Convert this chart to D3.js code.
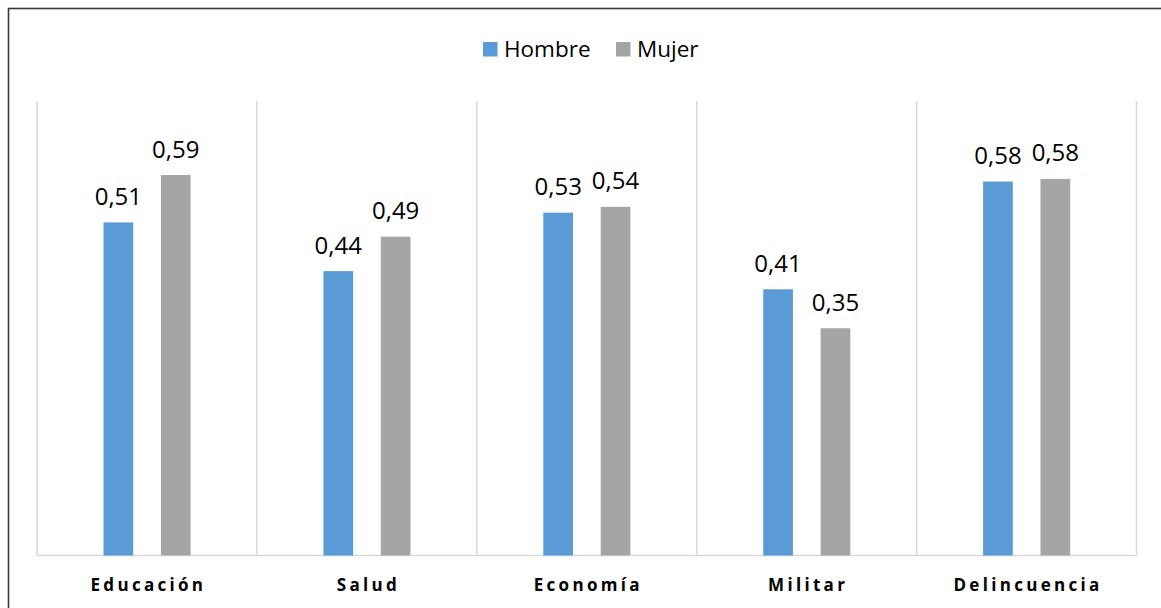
<!DOCTYPE html>
<html>
<head>
<meta charset="utf-8">
<script src="https://cdn.jsdelivr.net/npm/d3@7/dist/d3.min.js"></script>
<style>
  html, body { margin: 0; padding: 0; background: #fff; }
  svg { display: block; }
</style>
</head>
<body>
<svg id="chart" width="1161" height="608"></svg>
<script>
const categories = ["Educación", "Salud", "Economía", "Militar", "Delincuencia"];
const seriesNames = ["Hombre", "Mujer"];
const hombre = [0.513, 0.438, 0.528, 0.41, 0.576];
const mujer = [0.586, 0.491, 0.537, 0.35, 0.58];
const colors = ["#5b9bd5", "#a5a5a5"];

const seriesValues = [hombre, mujer];
const svg = d3.select("#chart");

// outer frame (extends past the right/bottom edges)
svg.append("rect").attr("x", 8.5).attr("y", 8.5).attr("width", 1200).attr("height", 700)
  .attr("fill", "#fff").attr("stroke", "#3a3a3a").attr("stroke-width", 1.6);

const plotL = 37, plotR = 1136.5, plotT = 101, plotB = 555.5;

const x0 = d3.scaleBand().domain(categories).range([plotL, plotR]).padding(0);
const x1 = d3.scaleBand().domain(seriesNames)
  .range([x0.bandwidth() * 0.3025, x0.bandwidth() * 0.6985]).paddingInner(0.4825).paddingOuter(0);
const y = d3.scaleLinear().domain([0, 0.7]).range([plotB, plotT]);

const grid = "#d9d9d9";
const seps = categories.map(c => x0(c)).concat([plotR]);
svg.append("g").selectAll("line").data(seps).join("line")
  .attr("x1", d => d).attr("x2", d => d)
  .attr("y1", plotT).attr("y2", plotB)
  .attr("stroke", grid).attr("stroke-width", 1.5);
svg.append("line").attr("x1", plotL).attr("x2", plotR).attr("y1", plotB).attr("y2", plotB)
  .attr("stroke", grid).attr("stroke-width", 1.5);

const fmt = v => d3.format(".2f")(v).replace(".", ",");

const groups = svg.append("g").selectAll("g").data(categories).join("g")
  .attr("transform", c => `translate(${x0(c)},0)`);

groups.each(function(c, ci) {
  const g = d3.select(this);
  seriesNames.forEach((s, si) => {
    const v = seriesValues[si][ci];
    g.append("rect")
      .attr("x", x1(s)).attr("width", x1.bandwidth())
      .attr("y", y(v)).attr("height", y(0) - y(v))
      .attr("fill", colors[si]);
    g.append("text")
      .attr("x", x1(s) + x1.bandwidth() / 2)
      .attr("y", y(v) - 17.5)
      .attr("text-anchor", "middle")
      .attr("font-family", "'Open Sans', sans-serif")
      .attr("font-size", 24)
      .attr("fill", "#000")
      .text(fmt(v));
  });
});

svg.append("g").selectAll("text").data(categories).join("text")
  .attr("x", c => x0(c) + x0.bandwidth() / 2 + 1.5)
  .attr("y", 591)
  .attr("text-anchor", "middle")
  .attr("font-family", "'Open Sans', sans-serif")
  .attr("font-weight", "bold")
  .attr("font-size", 17)
  .attr("letter-spacing", 3.3)
  .attr("fill", "#000")
  .text(c => c);

const legendItems = [{name: "Hombre", x: 483}, {name: "Mujer", x: 616}];
const lg = svg.append("g");
legendItems.forEach((it, i) => {
  lg.append("rect").attr("x", it.x).attr("y", 42).attr("width", 14.5).attr("height", 14.5).attr("fill", colors[i]);
  lg.append("text").attr("x", it.x + 21).attr("y", 57)
    .attr("font-family", "'Open Sans', sans-serif").attr("font-size", 22.5).attr("fill", "#000")
    .text(it.name);
});
</script>
</body>
</html>
